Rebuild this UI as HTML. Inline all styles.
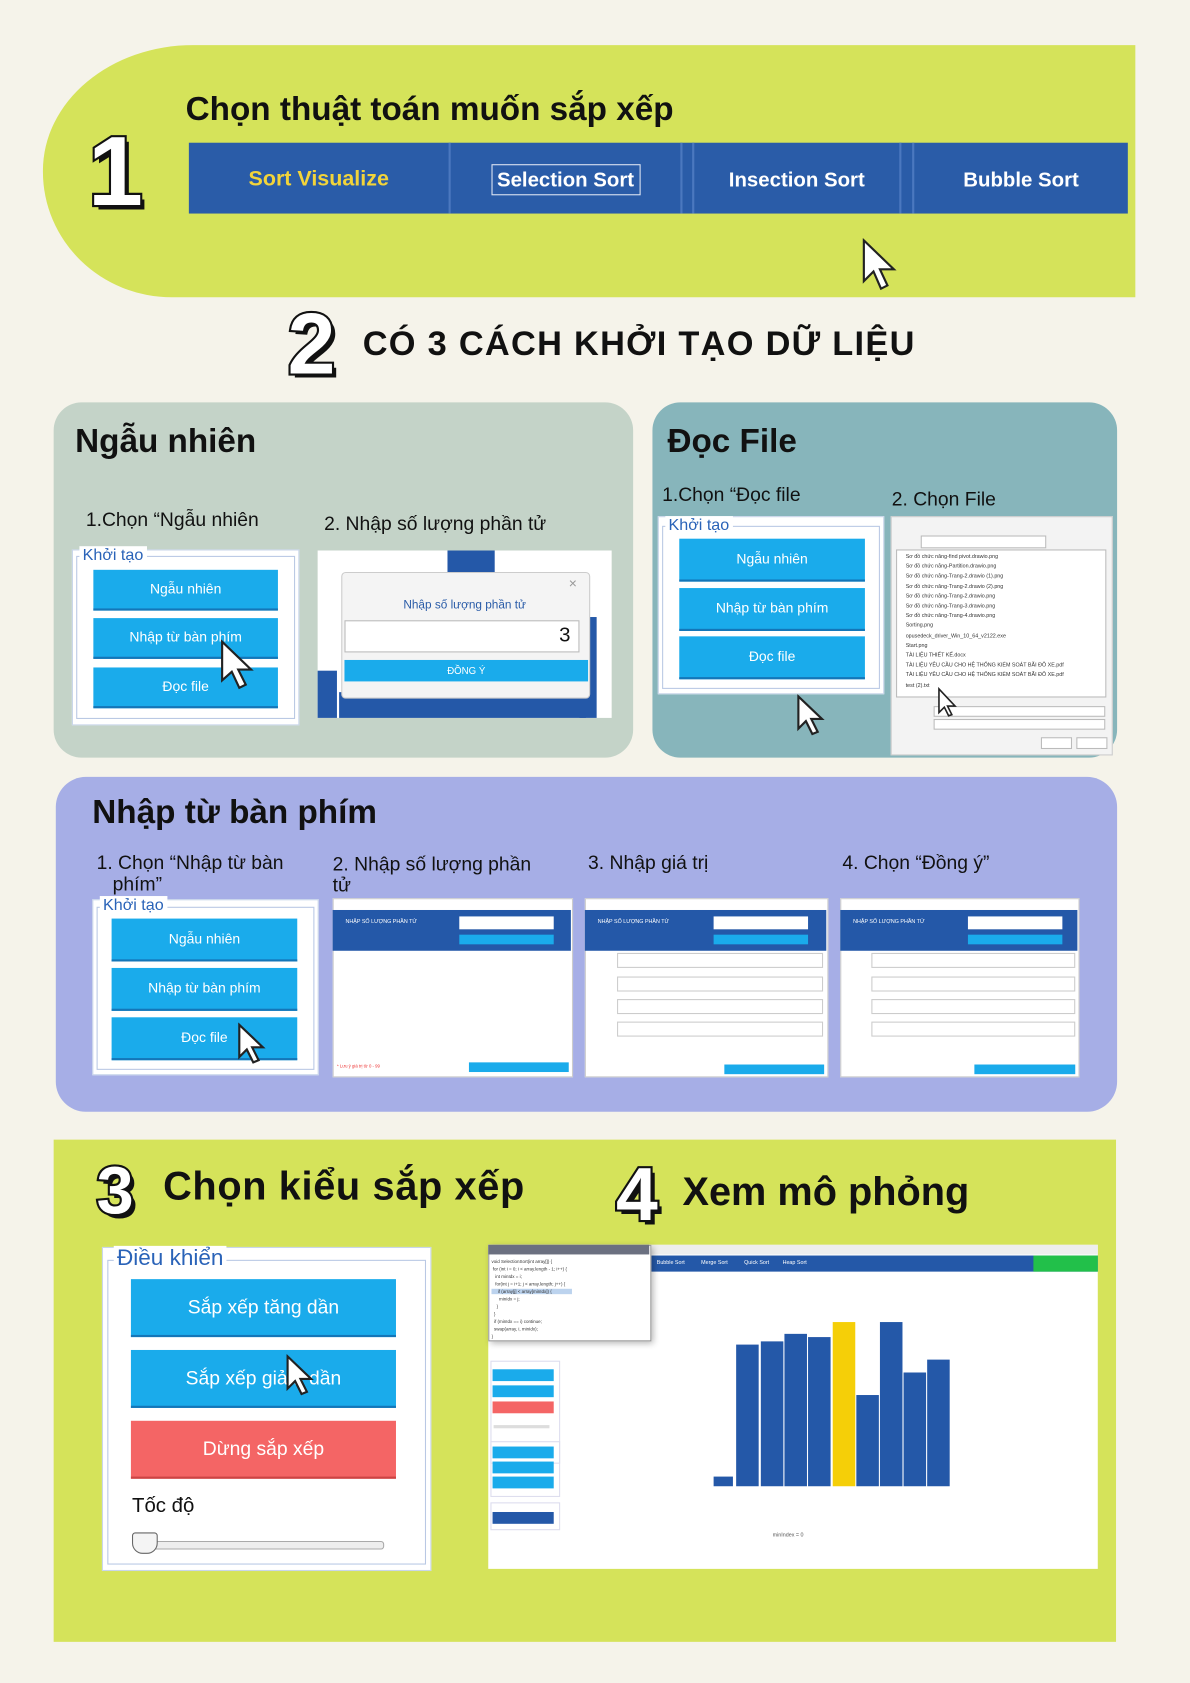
<!DOCTYPE html>
<html><head><meta charset="utf-8">
<style>
html,body{margin:0;padding:0;background:#f5f3ea;}
body{width:1190px;height:1683px;overflow:hidden;position:relative;font-family:"Liberation Sans","Noto Sans CJK SC",sans-serif;}
#w{position:absolute;left:0;top:0;width:1109px;height:1568px;transform:scale(1.0731);transform-origin:0 0;}
.a{position:absolute;}
.t{position:absolute;white-space:nowrap;color:#111;}
.btn{position:absolute;background:#1aabeb;color:#fff;font-size:13px;text-align:center;border-bottom:2px solid #1476b8;}
.box{position:absolute;background:#fff;border:1px solid #c9d6ea;}
.lg{position:absolute;background:#fff;color:#2a63b8;padding:0 3px;}
.num{position:absolute;font-weight:bold;color:#fff;-webkit-text-stroke:4px #111;paint-order:stroke fill;text-shadow:4px 4px 0 #111;font-family:"Liberation Sans",sans-serif;}
.shot{position:absolute;background:#fff;border:1px solid #ccc;}
</style></head><body><div id="w">

<div class="a" style="left:40px;top:42px;width:1018px;height:235px;background:#d5e35a;border-radius:140px 0 0 120px/117px 0 0 117px;"></div>
<div class="num" style="left:82px;top:108px;font-size:92px;">1</div>
<div class="t" style="left:173px;top:84px;font-size:31px;font-weight:bold;">Chọn thuật toán muốn sắp xếp</div>
<div class="a" style="left:176px;top:133px;width:875px;height:66px;background:#2a5ca8;"></div>
<div class="a" style="left:418px;top:133px;width:2px;height:66px;background:#4b78bf;"></div>
<div class="a" style="left:634px;top:133px;width:2px;height:66px;background:#4b78bf;"></div>
<div class="a" style="left:645px;top:133px;width:2px;height:66px;background:#4b78bf;"></div>
<div class="a" style="left:838px;top:133px;width:2px;height:66px;background:#4b78bf;"></div>
<div class="a" style="left:850px;top:133px;width:2px;height:66px;background:#4b78bf;"></div>
<div class="t" style="left:176px;width:242px;text-align:center;top:156px;font-size:20px;font-weight:bold;color:#f2d43a;">Sort Visualize</div>
<div class="a" style="left:458px;top:153px;width:137px;height:27px;border:1px solid #dfe6f3;"></div>
<div class="t" style="left:420px;width:214px;text-align:center;top:158px;font-size:19px;font-weight:bold;color:#fff;">Selection Sort</div>
<div class="t" style="left:647px;width:191px;text-align:center;top:158px;font-size:19px;font-weight:bold;color:#fff;">Insection Sort</div>
<div class="t" style="left:852px;width:199px;text-align:center;top:158px;font-size:19px;font-weight:bold;color:#fff;">Bubble Sort</div>
<svg class="a" style="left:803px;top:222px" width="34" height="50"><path d="M2 2 L2 40 L11 31 L18 47 L24 44 L17 29 L30 29 Z" fill="#fff" stroke="#222" stroke-width="2"/></svg>

<div class="num" style="left:268px;top:275px;font-size:80px;">2</div>
<div class="t" style="left:338px;top:302px;font-size:32px;font-weight:bold;letter-spacing:1.2px;">CÓ 3 CÁCH KHỞI TẠO DỮ LIỆU</div>

<div class="a" style="left:50px;top:375px;width:540px;height:331px;background:#c4d3c8;border-radius:26px;"></div>
<div class="t" style="left:70px;top:393px;font-size:31px;font-weight:bold;">Ngẫu nhiên</div>
<div class="t" style="left:80px;top:474px;font-size:18px;">1.Chọn “Ngẫu nhiên</div>
<div class="t" style="left:302px;top:478px;font-size:18px;">2. Nhập số lượng phần tử</div>
<div class="box" style="left:67px;top:512px;width:210px;height:162px;"></div>
<div class="a" style="left:71px;top:518px;width:202px;height:150px;border:1px solid #b9c8e4;"></div>
<div class="lg" style="left:74px;top:509px;font-size:15px;">Khởi tạo</div>
<div class="btn" style="left:87px;top:531px;width:172px;height:36px;line-height:36px;">Ngẫu nhiên</div>
<div class="btn" style="left:87px;top:576px;width:172px;height:36px;line-height:36px;">Nhập từ bàn phím</div>
<div class="btn" style="left:87px;top:622px;width:172px;height:36px;line-height:36px;">Đọc file</div>
<svg class="a" style="left:205px;top:596px" width="34" height="48"><path d="M2 2 L2 38 L11 30 L18 45 L24 42 L17 28 L29 28 Z" fill="#fff" stroke="#222" stroke-width="2"/></svg>
<div class="shot" style="left:296px;top:513px;width:274px;height:156px;border:none;"></div>
<div class="a" style="left:417px;top:513px;width:44px;height:22px;background:#2458a8;"></div>
<div class="a" style="left:296px;top:625px;width:18px;height:44px;background:#2458a8;"></div>
<div class="a" style="left:540px;top:575px;width:16px;height:94px;background:#2458a8;"></div>
<div class="a" style="left:316px;top:645px;width:230px;height:24px;background:#2458a8;"></div>
<div class="a" style="left:318px;top:533px;width:230px;height:116px;background:#f4f4f4;border:1px solid #ccc;border-radius:4px;"></div>
<div class="t" style="left:318px;width:230px;text-align:center;top:558px;font-size:11px;color:#2a5ca8;">Nhập số lượng phần tử</div>
<div class="t" style="left:530px;top:536px;font-size:13px;color:#999;">×</div>
<div class="a" style="left:321px;top:578px;width:217px;height:28px;background:#fff;border:1px solid #bbb;"></div>
<div class="t" style="left:521px;top:582px;font-size:19px;">3</div>
<div class="a" style="left:321px;top:615px;width:227px;height:20px;background:#1aabeb;color:#fff;font-size:9px;text-align:center;line-height:20px;">ĐỒNG Ý</div>

<div class="a" style="left:608px;top:375px;width:433px;height:331px;background:#87b5bb;border-radius:26px;"></div>
<div class="t" style="left:622px;top:393px;font-size:31px;font-weight:bold;">Đọc File</div>
<div class="t" style="left:617px;top:451px;font-size:18px;">1.Chọn “Đọc file</div>
<div class="t" style="left:831px;top:455px;font-size:18px;">2. Chọn File</div>
<div class="box" style="left:613px;top:481px;width:209px;height:164px;"></div>
<div class="a" style="left:617px;top:490px;width:201px;height:150px;border:1px solid #b9c8e4;"></div>
<div class="lg" style="left:620px;top:481px;font-size:15px;">Khởi tạo</div>
<div class="btn" style="left:633px;top:502px;width:173px;height:38px;line-height:38px;">Ngẫu nhiên</div>
<div class="btn" style="left:633px;top:548px;width:173px;height:38px;line-height:38px;">Nhập từ bàn phím</div>
<div class="btn" style="left:633px;top:593px;width:173px;height:38px;line-height:38px;">Đọc file</div>
<svg class="a" style="left:742px;top:647px" width="30" height="40"><path d="M2 2 L2 32 L9 25 L15 37 L20 35 L14 23 L24 23 Z" fill="#fff" stroke="#222" stroke-width="2"/></svg>
<div class="shot" style="left:830px;top:481px;width:205px;height:221px;background:#f3f3f3;"></div>
<div class="a" style="left:858px;top:499px;width:115px;height:10px;background:#fff;border:1px solid #bbb;"></div>
<div class="a" style="left:835px;top:512px;width:196px;height:138px;background:#fff;border:1px solid #bbb;font-size:5px;line-height:9.2px;color:#333;padding:2px 0 0 8px;box-sizing:border-box;">
Sơ đồ chức năng-find pivot.drawio.png<br>Sơ đồ chức năng-Partition.drawio.png<br>Sơ đồ chức năng-Trang-2.drawio (1).png<br>Sơ đồ chức năng-Trang-2.drawio (2).png<br>Sơ đồ chức năng-Trang-2.drawio.png<br>Sơ đồ chức năng-Trang-3.drawio.png<br>Sơ đồ chức năng-Trang-4.drawio.png<br>Sorting.png<br>opusedeck_driver_Win_10_64_v2122.exe<br>Start.png<br>TÀI LIỆU THIẾT KẾ.docx<br>TÀI LIỆU YÊU CẦU CHO HỆ THỐNG KIỂM SOÁT BÃI ĐỖ XE.pdf<br>TÀI LIỆU YÊU CẦU CHO HỆ THỐNG KIỂM SOÁT BÃI ĐỖ XE.pdf<br>test (2).txt</div>
<div class="a" style="left:870px;top:658px;width:158px;height:8px;background:#fff;border:1px solid #bbb;"></div>
<div class="a" style="left:870px;top:670px;width:158px;height:8px;background:#fff;border:1px solid #bbb;"></div>
<div class="a" style="left:970px;top:687px;width:27px;height:9px;background:#fff;border:1px solid #bbb;"></div>
<div class="a" style="left:1003px;top:687px;width:27px;height:9px;background:#fff;border:1px solid #bbb;"></div>
<svg class="a" style="left:873px;top:640px" width="22" height="30"><path d="M2 2 L2 24 L7 19 L11 27 L14 26 L10 18 L17 18 Z" fill="#fff" stroke="#222" stroke-width="1.5"/></svg>

<div class="a" style="left:52px;top:724px;width:989px;height:312px;background:#a6aee6;border-radius:28px;"></div>
<div class="t" style="left:86px;top:739px;font-size:31px;font-weight:bold;">Nhập từ bàn phím</div>
<div class="t" style="left:90px;top:794px;font-size:18px;line-height:20px;">1. Chọn “Nhập từ bàn<br>&nbsp;&nbsp;&nbsp;phím”</div>
<div class="t" style="left:310px;top:795px;font-size:18px;line-height:20px;">2. Nhập số lượng phần<br>tử</div>
<div class="t" style="left:548px;top:794px;font-size:18px;">3. Nhập giá trị</div>
<div class="t" style="left:785px;top:794px;font-size:18px;">4. Chọn “Đồng ý”</div>
<div class="box" style="left:86px;top:838px;width:209px;height:162px;"></div>
<div class="a" style="left:90px;top:845px;width:201px;height:150px;border:1px solid #b9c8e4;"></div>
<div class="lg" style="left:93px;top:835px;font-size:15px;">Khởi tạo</div>
<div class="btn" style="left:104px;top:856px;width:173px;height:38px;line-height:38px;">Ngẫu nhiên</div>
<div class="btn" style="left:104px;top:902px;width:173px;height:38px;line-height:38px;">Nhập từ bàn phím</div>
<div class="btn" style="left:104px;top:948px;width:173px;height:38px;line-height:38px;">Đọc file</div>
<svg class="a" style="left:221px;top:953px" width="30" height="40"><path d="M2 2 L2 32 L9 25 L15 37 L20 35 L14 23 L24 23 Z" fill="#fff" stroke="#222" stroke-width="2"/></svg>

<div class="shot" style="left:310px;top:837px;width:222px;height:165px;"></div>
<div class="a" style="left:310px;top:848px;width:222px;height:38px;background:#2458a8;"></div>
<div class="t" style="left:322px;top:856px;font-size:5px;color:#fff;">NHẬP SỐ LƯỢNG PHẦN TỬ</div>
<div class="a" style="left:428px;top:854px;width:88px;height:12px;background:#fff;"></div>
<div class="a" style="left:428px;top:871px;width:88px;height:9px;background:#1aabeb;"></div>
<div class="a" style="left:437px;top:990px;width:93px;height:9px;background:#1aabeb;"></div>
<div class="t" style="left:314px;top:991px;font-size:4px;color:#e33;">* Lưu ý giá trị từ 0 - 99</div>

<div class="shot" style="left:545px;top:837px;width:225px;height:165px;"></div>
<div class="a" style="left:545px;top:848px;width:225px;height:38px;background:#2458a8;"></div>
<div class="t" style="left:557px;top:856px;font-size:5px;color:#fff;">NHẬP SỐ LƯỢNG PHẦN TỬ</div>
<div class="a" style="left:665px;top:854px;width:88px;height:12px;background:#fff;"></div>
<div class="a" style="left:665px;top:871px;width:88px;height:9px;background:#1aabeb;"></div>
<div class="a" style="left:575px;top:888px;width:190px;height:12px;border:1px solid #ccc;"></div>
<div class="a" style="left:575px;top:910px;width:190px;height:12px;border:1px solid #ccc;"></div>
<div class="a" style="left:575px;top:931px;width:190px;height:12px;border:1px solid #ccc;"></div>
<div class="a" style="left:575px;top:952px;width:190px;height:12px;border:1px solid #ccc;"></div>
<div class="a" style="left:675px;top:992px;width:93px;height:9px;background:#1aabeb;"></div>

<div class="shot" style="left:783px;top:837px;width:221px;height:165px;"></div>
<div class="a" style="left:783px;top:848px;width:221px;height:38px;background:#2458a8;"></div>
<div class="t" style="left:795px;top:856px;font-size:5px;color:#fff;">NHẬP SỐ LƯỢNG PHẦN TỬ</div>
<div class="a" style="left:902px;top:854px;width:88px;height:12px;background:#fff;"></div>
<div class="a" style="left:902px;top:871px;width:88px;height:9px;background:#1aabeb;"></div>
<div class="a" style="left:812px;top:888px;width:188px;height:12px;border:1px solid #ccc;"></div>
<div class="a" style="left:812px;top:910px;width:188px;height:12px;border:1px solid #ccc;"></div>
<div class="a" style="left:812px;top:931px;width:188px;height:12px;border:1px solid #ccc;"></div>
<div class="a" style="left:812px;top:952px;width:188px;height:12px;border:1px solid #ccc;"></div>
<div class="a" style="left:908px;top:992px;width:94px;height:9px;background:#1aabeb;"></div>

<div class="a" style="left:50px;top:1062px;width:990px;height:468px;background:#d5e35a;"></div>
<div class="num" style="left:90px;top:1075px;font-size:62px;">3</div>
<div class="t" style="left:152px;top:1085px;font-size:37px;font-weight:bold;letter-spacing:0.6px;">Chọn kiểu sắp xếp</div>
<div class="num" style="left:574px;top:1073px;font-size:70px;">4</div>
<div class="t" style="left:636px;top:1090px;font-size:37px;font-weight:bold;">Xem mô phỏng</div>

<div class="box" style="left:95px;top:1162px;width:305px;height:300px;"></div>
<div class="a" style="left:100px;top:1174px;width:295px;height:282px;border:1px solid #b9c8e4;"></div>
<div class="lg" style="left:106px;top:1161px;font-size:21px;">Điều khiển</div>
<div class="btn" style="left:122px;top:1192px;width:247px;height:52px;line-height:52px;font-size:18px;">Sắp xếp tăng dần</div>
<div class="btn" style="left:122px;top:1258px;width:247px;height:52px;line-height:52px;font-size:18px;">Sắp xếp giảm dần</div>
<div class="btn" style="left:122px;top:1324px;width:247px;height:52px;line-height:52px;font-size:18px;background:#f46565;border-bottom-color:#c44;">Dừng sắp xếp</div>
<svg class="a" style="left:266px;top:1262px" width="30" height="40"><path d="M2 2 L2 32 L9 25 L15 37 L20 35 L14 23 L24 23 Z" fill="#fff" stroke="#222" stroke-width="2"/></svg>
<div class="t" style="left:123px;top:1393px;font-size:19px;">Tốc độ</div>
<div class="a" style="left:125px;top:1436px;width:231px;height:6px;border:1px solid #aaa;border-radius:3px;background:#eee;"></div>
<div class="a" style="left:123px;top:1428px;width:22px;height:18px;background:#f4f4f4;border:1px solid #666;border-radius:3px 3px 10px 10px;"></div>

<div class="shot" style="left:455px;top:1160px;width:568px;height:302px;border:none;background:#fff;"></div>
<div class="a" style="left:455px;top:1160px;width:568px;height:9px;background:#eee;"></div>
<div class="a" style="left:600px;top:1170px;width:423px;height:15px;background:#2458a8;"></div>
<div class="a" style="left:963px;top:1170px;width:60px;height:15px;background:#22c04a;"></div>
<div class="t" style="left:612px;top:1174px;font-size:5px;color:#fff;">Bubble Sort &nbsp;&nbsp;&nbsp;&nbsp;&nbsp;&nbsp;&nbsp;&nbsp;&nbsp; Merge Sort &nbsp;&nbsp;&nbsp;&nbsp;&nbsp;&nbsp;&nbsp;&nbsp;&nbsp; Quick Sort &nbsp;&nbsp;&nbsp;&nbsp;&nbsp;&nbsp;&nbsp; Heap Sort</div>
<div class="a" style="left:455px;top:1160px;width:150px;height:88px;background:#fff;border:1px solid #999;box-shadow:2px 2px 6px rgba(0,0,0,.3);"></div>
<div class="a" style="left:455px;top:1160px;width:150px;height:9px;background:#6b7080;"></div>
<div class="t" style="left:458px;top:1172px;font-size:4.2px;line-height:7px;color:#333;">void SelectionSort(int array[]) {<br>&nbsp;for (int i = 0; i &lt; array.length - 1; i++) {<br>&nbsp;&nbsp;&nbsp;int minIdx = i;<br>&nbsp;&nbsp;&nbsp;for(int j = i+1; j &lt; array.length; j++) {<br><span style="background:#bcd3ee">&nbsp;&nbsp;&nbsp;&nbsp;&nbsp;if (array[j] &lt; array[minIdx]) {&nbsp;&nbsp;&nbsp;&nbsp;&nbsp;&nbsp;&nbsp;&nbsp;&nbsp;&nbsp;&nbsp;&nbsp;&nbsp;&nbsp;&nbsp;&nbsp;</span><br>&nbsp;&nbsp;&nbsp;&nbsp;&nbsp;&nbsp;minIdx = j;<br>&nbsp;&nbsp;&nbsp;&nbsp;}<br>&nbsp;&nbsp;}<br>&nbsp;&nbsp;if (minIdx == i) continue;<br>&nbsp;&nbsp;swap(array, i, minIdx);<br>}</div>
<div class="a" style="left:457px;top:1268px;width:63px;height:94px;border:1px solid #dde;"></div>
<div class="a" style="left:459px;top:1276px;width:57px;height:11px;background:#1aabeb;"></div>
<div class="a" style="left:459px;top:1291px;width:57px;height:11px;background:#1aabeb;"></div>
<div class="a" style="left:459px;top:1306px;width:57px;height:11px;background:#f46565;"></div>
<div class="a" style="left:460px;top:1328px;width:52px;height:3px;background:#ddd;"></div>
<div class="a" style="left:457px;top:1343px;width:63px;height:50px;border:1px solid #dde;"></div>
<div class="a" style="left:459px;top:1348px;width:57px;height:11px;background:#1aabeb;"></div>
<div class="a" style="left:459px;top:1362px;width:57px;height:11px;background:#1aabeb;"></div>
<div class="a" style="left:459px;top:1376px;width:57px;height:11px;background:#1aabeb;"></div>
<div class="a" style="left:457px;top:1400px;width:63px;height:24px;border:1px solid #dde;"></div>
<div class="a" style="left:459px;top:1409px;width:57px;height:11px;background:#2458a8;"></div>
<div class="a" style="left:665px;top:1376px;width:18px;height:9px;background:#2458a8;"></div>
<div class="a" style="left:686px;top:1253px;width:21px;height:132px;background:#2458a8;"></div>
<div class="a" style="left:709px;top:1250px;width:21px;height:135px;background:#2458a8;"></div>
<div class="a" style="left:731px;top:1243px;width:21px;height:142px;background:#2458a8;"></div>
<div class="a" style="left:753px;top:1246px;width:21px;height:139px;background:#2458a8;"></div>
<div class="a" style="left:776px;top:1232px;width:21px;height:153px;background:#f5cf08;"></div>
<div class="a" style="left:798px;top:1300px;width:21px;height:85px;background:#2458a8;"></div>
<div class="a" style="left:820px;top:1232px;width:21px;height:153px;background:#2458a8;"></div>
<div class="a" style="left:842px;top:1279px;width:21px;height:106px;background:#2458a8;"></div>
<div class="a" style="left:864px;top:1267px;width:21px;height:118px;background:#2458a8;"></div>
<div class="t" style="left:720px;top:1428px;font-size:5px;color:#555;">minIndex = 0</div>
</div></body></html>
